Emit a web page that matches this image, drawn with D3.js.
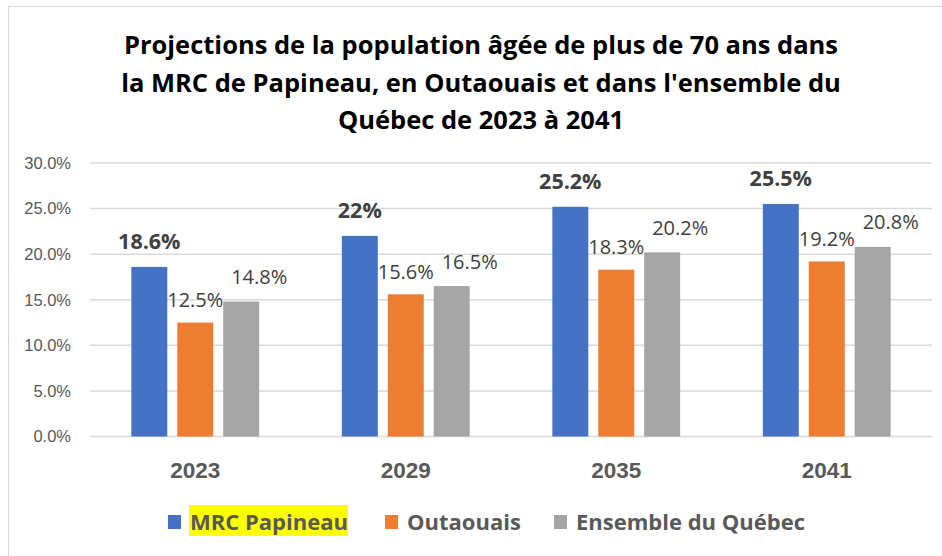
<!DOCTYPE html>
<html>
<head>
<meta charset="utf-8">
<script src="https://cdn.jsdelivr.net/npm/d3@7"></script>
<style>
  body { margin: 0; background: #fff; }
  svg { display: block; font-family: "Open Sans", sans-serif; }
</style>
</head>
<body>
<div id="chart"></div>
<script>
const width = 942,
  height = 556;

const titleLines = [
  'Projections de la population âgée de plus de 70 ans dans',
  "la MRC de Papineau, en Outaouais et dans l'ensemble du",
  'Québec de 2023 à 2041'
];
const years = ['2023', '2029', '2035', '2041'];
const seriesNames = ['MRC Papineau', 'Outaouais', 'Ensemble du Québec'];
const papineau = [18.6, 22, 25.2, 25.5];
const outaouais = [12.5, 15.6, 18.3, 19.2];
const quebec = [14.8, 16.5, 20.2, 20.8];
const papineauLabels = ['18.6%', '22%', '25.2%', '25.5%'];
const yTicks = [0, 5, 10, 15, 20, 25, 30];

const colors = ['#4472C4', '#ED7D31', '#A5A5A5'];
const seriesValues = [papineau, outaouais, quebec];
// label offsets per series (the gray labels sit a bit to the right in the original)
const labelDx = [0, 0, 18];
const labelDy = [18, 15.5, 17.5];

const svg = d3.select('#chart').append('svg')
  .attr('width', width)
  .attr('height', height);

// chart frame
svg.append('rect')
  .attr('x', 8.5).attr('y', 6.5)
  .attr('width', width).attr('height', height)
  .attr('fill', 'none')
  .attr('stroke', '#d9d9d9');

svg.append('g')
  .selectAll('text')
  .data(titleLines)
  .enter().append('text')
  .attr('x', 481)
  .attr('y', (d, i) => 54 + i * 37.5)
  .attr('text-anchor', 'middle')
  .style('font-size', '25.5px')
  .style('font-weight', 'bold')
  .style('fill', '#000')
  .text(d => d);

const plot = { left: 90, right: 932, top: 163, bottom: 436.5 };

const x0 = d3.scaleBand()
  .domain(years)
  .range([plot.left, plot.right]);

const x1 = d3.scaleBand()
  .domain(d3.range(seriesNames.length))
  .range([0, x0.bandwidth()])
  .paddingInner(0.217)
  .paddingOuter(0.9);

const y = d3.scaleLinear()
  .domain([0, 30])
  .range([plot.bottom, plot.top]);

// grid
svg.append('g')
  .selectAll('line')
  .data(yTicks)
  .enter().append('line')
  .attr('x1', plot.left).attr('x2', plot.right)
  .attr('y1', d => y(d)).attr('y2', d => y(d))
  .attr('stroke', '#d9d9d9')
  .attr('stroke-width', 1.5);

const yAxis = svg.append('g')
  .attr('transform', `translate(${plot.left},0)`)
  .call(d3.axisLeft(y).tickValues(yTicks).tickSize(0).tickPadding(19)
    .tickFormat(d => d.toFixed(1) + '%'));
yAxis.select('.domain').remove();
yAxis.selectAll('text')
  .style('font-size', '16.5px')
  .style('font-family', 'inherit')
  .attr('fill', '#595959');

const xAxis = svg.append('g')
  .attr('transform', `translate(0,${plot.bottom})`)
  .call(d3.axisBottom(x0).tickSize(0).tickPadding(0));
xAxis.select('.domain').remove();
xAxis.selectAll('text')
  .attr('dy', null)
  .attr('y', 478 - plot.bottom)
  .style('font-size', '22.5px')
  .style('font-weight', 'bold')
  .style('font-family', 'inherit')
  .attr('fill', '#595959');

const rows = [];
seriesValues.forEach((vals, s) => {
  vals.forEach((v, i) => rows.push({ s, year: years[i], i, v }));
});

svg.append('g')
  .selectAll('rect')
  .data(rows)
  .enter().append('rect')
  .attr('x', d => x0(d.year) + x1(d.s))
  .attr('y', d => y(d.v))
  .attr('width', x1.bandwidth())
  .attr('height', d => y(0) - y(d.v))
  .attr('fill', d => colors[d.s]);

svg.append('g')
  .selectAll('text')
  .data(rows)
  .enter().append('text')
  .attr('x', d => x0(d.year) + x1(d.s) + x1.bandwidth() / 2 + labelDx[d.s])
  .attr('y', d => y(d.v) - labelDy[d.s])
  .attr('text-anchor', 'middle')
  .style('font-size', d => d.s === 0 ? '21.5px' : '20px')
  .style('font-weight', d => d.s === 0 ? 'bold' : 'normal')
  .attr('fill', '#404040')
  .text(d => d.s === 0 ? papineauLabels[d.i] : d.v.toFixed(1) + '%');

// legend
const legendX = [168, 385, 554];
const legend = svg.append('g')
  .selectAll('g')
  .data(seriesNames)
  .enter().append('g')
  .attr('transform', (d, i) => `translate(${legendX[i]},530)`);

legend.filter((d, i) => i === 0)
  .append('rect')
  .attr('x', 21).attr('y', -25)
  .attr('width', 159).attr('height', 31)
  .attr('fill', '#ffff00');

legend.append('rect')
  .attr('x', 0).attr('y', -15)
  .attr('width', 13).attr('height', 14)
  .attr('fill', (d, i) => colors[i]);

legend.append('text')
  .attr('x', 22)
  .attr('y', 0)
  .style('font-size', '22px')
  .style('font-weight', 'bold')
  .attr('fill', '#595959')
  .text(d => d);
</script>
</body>
</html>
